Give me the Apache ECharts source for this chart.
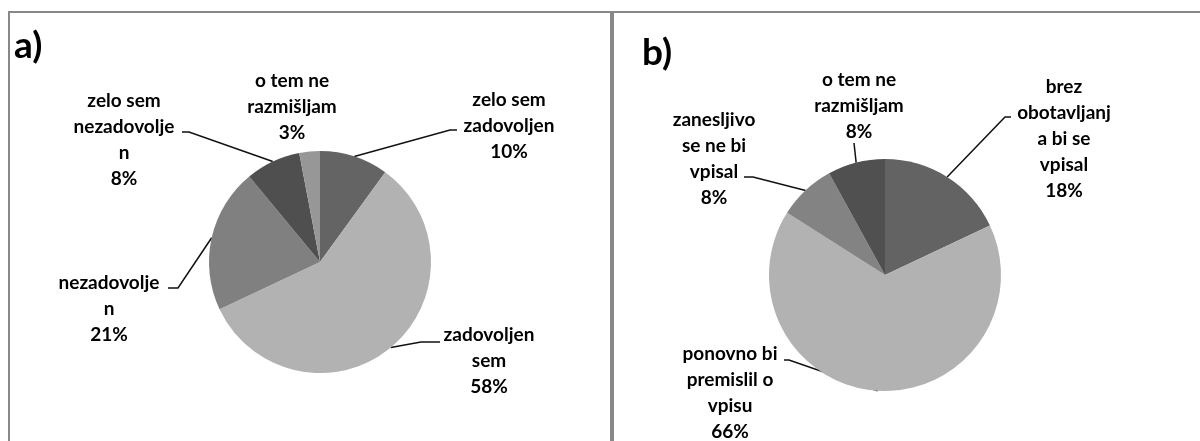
<!DOCTYPE html>
<html>
<head>
<meta charset="utf-8">
<script src="https://cdn.jsdelivr.net/npm/echarts@6/dist/echarts.min.js"></script>
<style>
html, body { margin: 0; padding: 0; background: #fff; }
#chart { width: 1200px; height: 441px; }
</style>
</head>
<body>
<div id="chart"></div>
<script>
// data
var panelTitles = ['a)', 'b)'];

var namesA = ['zelo sem\nzadovoljen', 'zadovoljen\nsem', 'nezadovolje\nn', 'zelo sem\nnezadovolje\nn', 'o tem ne\nrazmišljam'];
var valuesA = [10, 58, 21, 8, 3];

var namesB = ['brez\nobotavljanj\na bi se\nvpisal', 'ponovno bi\npremislil o\nvpisu', 'zanesljivo\nse ne bi\nvpisal', 'o tem ne\nrazmišljam'];
var valuesB = [18, 66, 8, 8];

// styles / layout
var colorsA = ['#646464', '#b2b2b2', '#808080', '#4f4f4f', '#979797'];
var colorsB = ['#636363', '#b2b2b2', '#838383', '#505050'];

// label centres and leader bends (Excel placed them by hand)
var labelPosA = [[509, 126], [489, 361], [109, 309], [124, 140], [292, 107]];
var leadA = [[[450, 130], [457, 130]], [[421, 342], [440, 342]], [[178, 288], [168, 288]], [[189, 132], [182, 132]], null];
var labelPosB = [[1064, 139], [730, 393], [714, 159], [859, 106]];
var leadB = [[[1005, 117], [1011, 117]], [[789, 360], [784, 360]], [[753, 177], [744, 177]], [[854, 143], [854, 143]]];

var FONT = 'Lato, "Open Sans", sans-serif';

var makeData = function (names, values, colors) {
    return names.map(function (n, i) {
        return { name: n, value: values[i], itemStyle: { color: colors[i] } };
    });
};

var makeLayout = function (pos, lead) {
    return function (params) {
        var i = params.dataIndex;
        var out = { x: pos[i][0], y: pos[i][1], align: 'center', verticalAlign: 'middle' };
        var p0 = params.labelLinePoints ? params.labelLinePoints[0] : null;
        if (p0) {
            if (lead[i]) {
                out.labelLinePoints = [p0, lead[i][0], lead[i][1]];
            } else {
                out.labelLinePoints = [p0, p0, p0];
            }
        }
        return out;
    };
};

var pieBase = function (center, radius) {
    return {
        type: 'pie',
        center: center,
        radius: radius,
        startAngle: 90,
        clockwise: true,
        avoidLabelOverlap: false,
        animation: false,
        silent: true,
        itemStyle: { borderWidth: 0 },
        label: {
            show: true,
            position: 'outside',
            formatter: '{b}\n{c}%',
            color: '#000',
            fontFamily: FONT,
            fontWeight: 'bold',
            fontSize: 19,
            lineHeight: 26
        },
        labelLine: {
            show: true,
            lineStyle: { color: '#111', width: 1.5 }
        }
    };
};

var chart = echarts.init(document.getElementById('chart'), null, { renderer: 'canvas' });

var seriesA = pieBase([320, 262], 111);
seriesA.data = makeData(namesA, valuesA, colorsA);
seriesA.labelLayout = makeLayout(labelPosA, leadA);

var seriesB = pieBase([885, 275], 116);
seriesB.data = makeData(namesB, valuesB, colorsB);
seriesB.labelLayout = makeLayout(labelPosB, leadB);

var option = {
    backgroundColor: '#fff',
    animation: false,
    graphic: [
        { type: 'rect', shape: { x: 8, y: 11, width: 1192, height: 2 }, style: { fill: '#888' } },
        { type: 'rect', shape: { x: 8, y: 11, width: 2, height: 430 }, style: { fill: '#888' } },
        { type: 'rect', shape: { x: 610, y: 11, width: 4, height: 430 }, style: { fill: '#888' } },
        {
            type: 'text', x: 14, y: 46,
            style: { text: panelTitles[0], font: 'bold 37px ' + FONT, fill: '#000', textVerticalAlign: 'middle' }
        },
        {
            type: 'text', x: 642, y: 53,
            style: { text: panelTitles[1], font: 'bold 37px ' + FONT, fill: '#000', textVerticalAlign: 'middle' }
        }
    ],
    series: [seriesA, seriesB]
};

chart.setOption(option);
</script>
</body>
</html>
